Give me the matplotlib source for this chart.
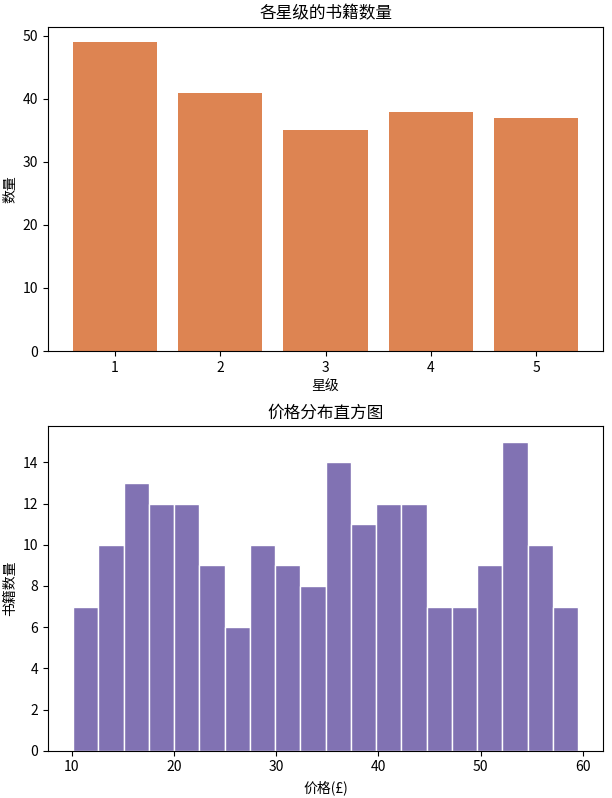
import numpy as np
import matplotlib
matplotlib.use("Agg")
import matplotlib.pyplot as plt

plt.rcParams['font.family'] = ['Noto Sans CJK SC', 'DejaVu Sans']
plt.rcParams['axes.unicode_minus'] = False

# star rating counts
stars = [1, 2, 3, 4, 5]
star_counts = [49, 41, 35, 38, 37]

# price histogram (20 bins)
price_min = 10.1
price_max = 59.55
hist_counts = [7, 10, 13, 12, 12, 9, 6, 10, 9, 8, 14, 11, 12, 12, 7, 7, 9, 15, 10, 7]

fig, (ax1, ax2) = plt.subplots(2, 1, figsize=(6.12, 7.98), dpi=100)
fig.subplots_adjust(left=0.078, right=0.986, top=0.9665, bottom=0.0593, hspace=0.2325)

ax1.bar(stars, star_counts, color='#DD8452')
ax1.set_title('各星级的书籍数量')
ax1.set_xlabel('星级')
ax1.set_ylabel('数量')
ax1.set_xticks(stars)

edges = np.linspace(price_min, price_max, len(hist_counts) + 1)
ax2.bar(edges[:-1], hist_counts, width=np.diff(edges), align='edge',
        color='#8172B3', edgecolor='white')
ax2.set_title('价格分布直方图')
ax2.set_xlabel('价格(£)')
ax2.set_ylabel('书籍数量')

plt.savefig('out.png')
